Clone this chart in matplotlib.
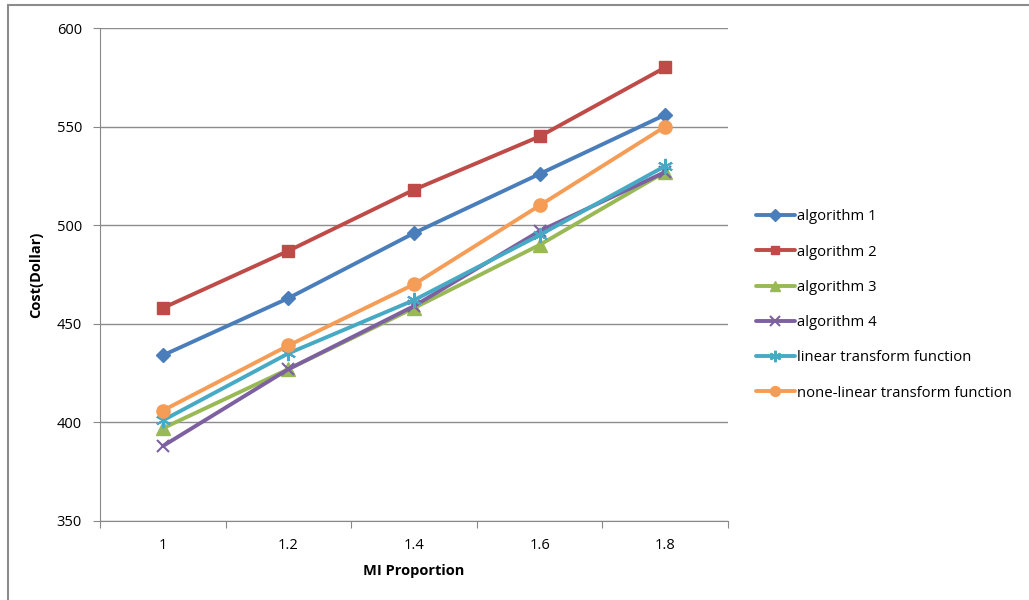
import matplotlib
matplotlib.use("Agg")
import matplotlib.pyplot as plt
from matplotlib.patches import Rectangle

# x categories and the cost for each method
proportions = ["1", "1.2", "1.4", "1.6", "1.8"]
algorithm_1 = [434, 463, 496, 526, 556]
algorithm_2 = [458, 487, 518, 545, 580]
algorithm_3 = [397, 427, 458, 490, 527]
algorithm_4 = [388, 427, 459, 497, 527]
linear_tf = [401, 435, 462, 495, 530]
nonlinear_tf = [406, 439, 470, 510, 550]

series = [
    ("algorithm 1", algorithm_1, "#4A7EBB", "D", 7.5),
    ("algorithm 2", algorithm_2, "#BE4B48", "s", 8.5),
    ("algorithm 3", algorithm_3, "#98B954", "^", 9.5),
    ("algorithm 4", algorithm_4, "#7D60A0", "x", 9),
    ("linear transform function", linear_tf, "#46AAC5", (6, 2, 0), 11),
    ("none-linear transform function", nonlinear_tf, "#F59D56", "o", 9.5),
]

plt.rcParams["font.family"] = ["Open Sans", "DejaVu Sans"]

fig = plt.figure(figsize=(10.29, 6), dpi=100)
ax = fig.add_axes([100 / 1029, 1 - 521 / 600, 628 / 1029, 493 / 600])

x = list(range(len(proportions)))
for name, vals, color, marker, ms in series:
    mew = 1.5 if marker in ("x", (6, 2, 0)) else 1
    ax.plot(x, vals, color=color, lw=2.8, marker=marker, ms=ms,
            mec=color, mfc=color, mew=mew, label=name, solid_capstyle="round")

ax.set_ylim(350, 600)
ax.set_yticks(range(350, 601, 50))
ax.set_xlim(-0.5, len(proportions) - 0.5)
ax.set_xticks([i - 0.5 for i in range(len(proportions) + 1)])
ax.set_xticklabels([])
ax.set_xticks(x, minor=True)
ax.set_xticklabels(proportions, minor=True)
ax.tick_params(axis="x", which="minor", length=0, pad=12, labelsize=10.5)
ax.tick_params(axis="x", which="major", length=5, color="#888888")
ax.tick_params(axis="y", length=5, color="#888888", labelsize=10.5, pad=8)

ax.grid(axis="y", color="#8C8C8C", lw=1)
ax.set_axisbelow(True)
for side in ("top", "right"):
    ax.spines[side].set_visible(False)
for side in ("left", "bottom"):
    ax.spines[side].set_color("#888888")

ax.set_xlabel("MI Proportion", fontsize=10.5, fontweight="bold", labelpad=8)
ax.set_ylabel("Cost(Dollar)", fontsize=10.5, fontweight="bold", labelpad=10)

ax.legend(loc="center left", bbox_to_anchor=(750 / 1029, 1 - 305 / 600),
          bbox_transform=fig.transFigure, frameon=False, fontsize=10.7,
          handlelength=2.6, handletextpad=0.15, labelspacing=1.36,
          markerscale=0.75, borderaxespad=0)

# outer chart border
fig.patches.append(Rectangle((7.5 / 1029, -0.1), 1.1, 1.1 - 4.5 / 600,
                             transform=fig.transFigure, fill=False,
                             edgecolor="#8C8C8C", lw=1.5))

fig.savefig("out.png", dpi=100)
